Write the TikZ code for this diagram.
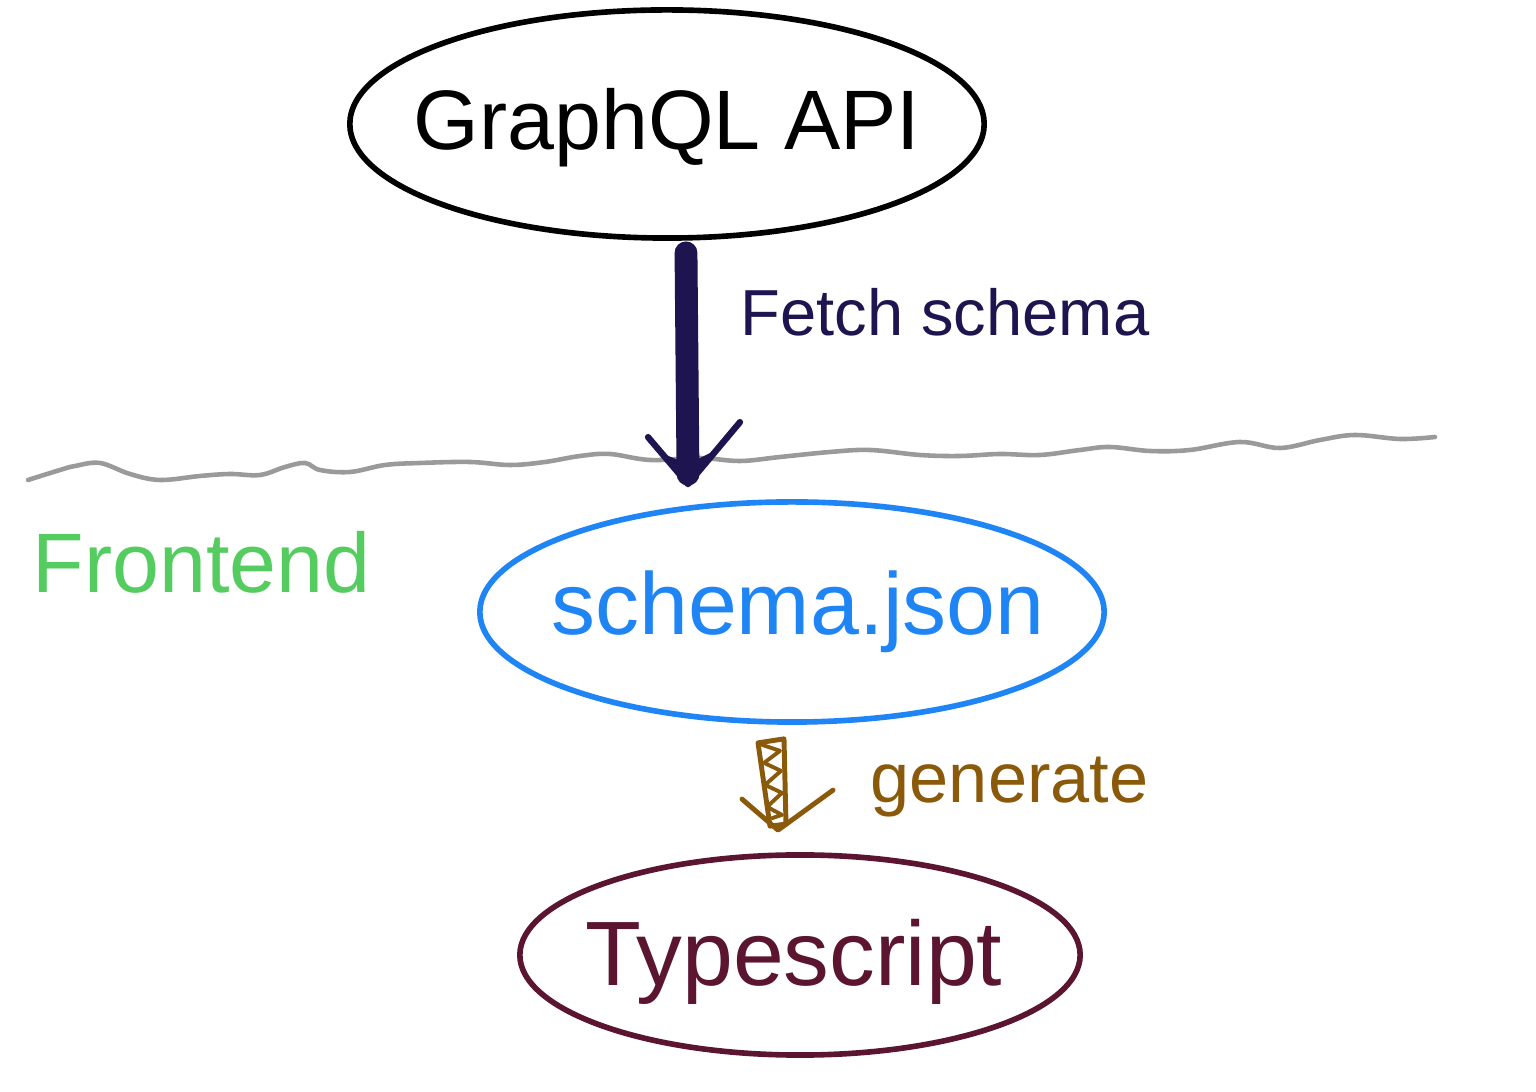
\documentclass[tikz,border=0pt]{standalone}
\usepackage{fontspec}
\setmainfont{Liberation Sans}
\usetikzlibrary{shapes.geometric,calc}
\definecolor{navyink}{HTML}{1E1450}
\definecolor{brownink}{HTML}{8A5A0A}
\definecolor{greenink}{HTML}{55CC5F}
\definecolor{blueink}{HTML}{1F85F5}
\definecolor{maroonink}{HTML}{5C1530}
\definecolor{grayink}{HTML}{9A9A9A}
\tikzset{
  bubble/.style={ellipse, draw, line width=1.6pt, inner sep=0pt},
  pen/.style={line width=1.4pt, line cap=round, line join=round},
  lbl/.style={inner sep=0pt, anchor=west},
  txt/.style={inner sep=0pt},
}
\begin{document}
\begin{tikzpicture}[x={(0.01cm,0)}, y={(0,-0.01cm)}]
\useasboundingbox[fill=white] (0,0) rectangle (1536,1092);

% bubbles
\node[bubble, draw=black, minimum width=6.34cm, minimum height=2.28cm] (api) at (667,124) {};
\node[bubble, draw=blueink, minimum width=6.24cm, minimum height=2.2cm] (schema) at (792,612) {};
\node[bubble, draw=maroonink, minimum width=5.6cm, minimum height=2.0cm] (ts) at (800,955) {};

% bubble texts
\node[txt, font=\fontsize{24}{28}\selectfont] (apitext) at (667,128) {GraphQL API};
\node[txt, text=blueink, font=\fontsize{25}{30}\selectfont] (schematext) at (798,612) {schema.json};
\node[txt, text=maroonink, font=\fontsize{26}{31}\selectfont] (tstext) at (794,962) {Typescript};

% labels
\node[lbl, text=navyink, font=\fontsize{18.5}{22}\selectfont] (fetchlbl) at (740,312) {Fetch schema};
\node[lbl, text=brownink, font=\fontsize{20}{24}\selectfont] (genlbl) at (870,787) {generate};
\node[lbl, text=greenink, font=\fontsize{24}{28}\selectfont] (frontlbl) at (32,562) {Frontend};

% wavy boundary
\draw[grayink, line width=1.3pt, line cap=round]
  plot[smooth, tension=0.6] coordinates {
  (28,480) (60,470) (75,466) (100,463) (130,474) (160,480) (200,476) (230,474)
  (260,475) (285,467) (305,463) (320,470) (350,472) (385,465) (420,463) (470,462)
  (510,465) (545,462) (580,456) (610,454) (650,460) (700,458) (740,461) (780,457)
  (830,452) (870,450) (920,455) (960,456) (1000,454) (1040,455) (1080,450)
  (1110,447) (1150,451) (1190,450) (1240,442) (1280,448) (1320,440) (1355,435)
  (1400,439) (1435,437)};

% fetch arrow
\path ($(api.south)+(19,12)$) coordinate (fa1);
\path ($(schema.north)+(-104,-15)$) coordinate (fa2);
\draw[navyink, line width=6.5pt, line cap=round] (fa1) -- ($(fa2)+(0,-10)$);
\draw[navyink, pen, line width=1.8pt] ($(fa2)+(-40,-47)$) -- (fa2) -- ($(fa2)+(52,-62)$);
\fill[navyink] ($(fa2)+(-24,-30)$) -- (fa2) -- ($(fa2)+(28,-34)$) -- ($(fa2)+(0,-20)$) -- cycle;

% generate arrow
\path ($(schema.south)+(-20,16)$) coordinate (ga1);
\path ($(ts.north)+(-22,-22)$) coordinate (ga2);
\draw[brownink, pen] ($(ga1)+(-14,2)$) -- ($(ga1)+(12,-2)$) -- ($(ga2)+(8,-6)$)
  -- ($(ga2)+(-8,-4)$) -- cycle;
\draw[brownink, pen, line width=1.1pt] ($(ga1)+(-10,4)$) -- ($(ga1)+(8,10)$)
  -- ($(ga1)+(-8,22)$) -- ($(ga1)+(9,30)$) -- ($(ga1)+(-7,44)$) -- ($(ga1)+(10,52)$)
  -- ($(ga1)+(-5,66)$) -- ($(ga1)+(10,74)$) -- ($(ga2)+(-6,-12)$);
\draw[brownink, pen] ($(ga2)+(-36,-31)$) -- (ga2) -- ($(ga2)+(55,-40)$);
\end{tikzpicture}
\end{document}
